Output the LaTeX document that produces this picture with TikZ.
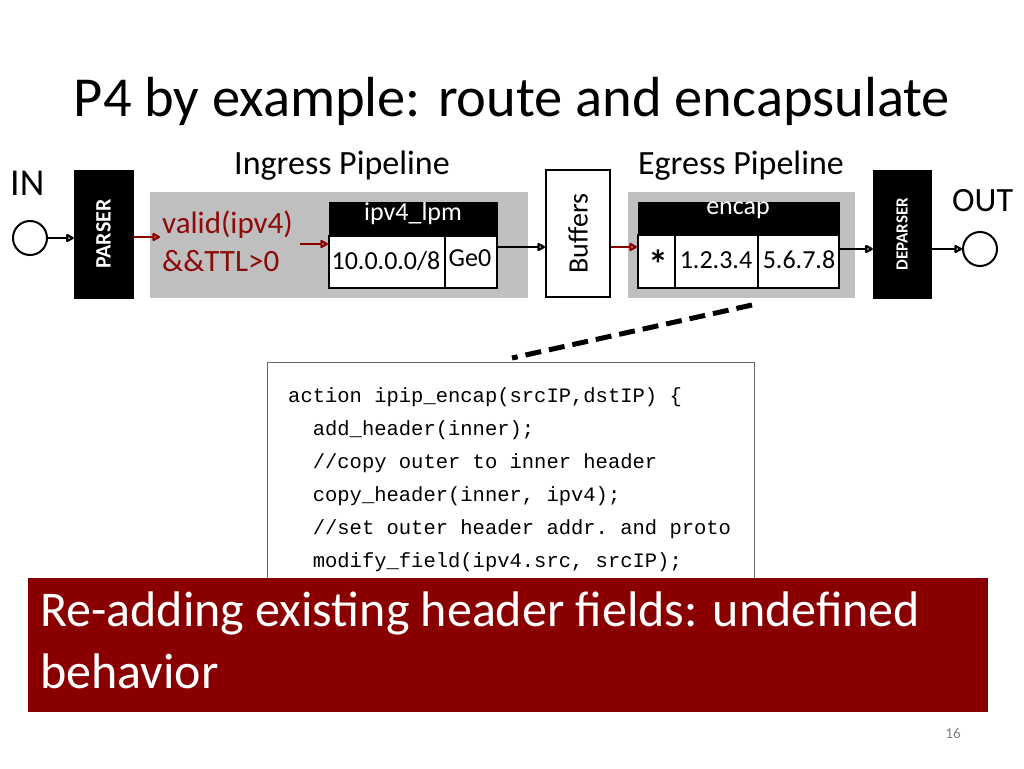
\documentclass[tikz,border=0pt]{standalone}
\usepackage{fontspec}
\usetikzlibrary{arrows.meta}
\setmainfont{Carlito}
\setmonofont{Liberation Mono}
\begin{document}
\begin{tikzpicture}[x=1pt,y=-1pt,
  blk/.style={fill=black,draw=black},
  ar/.style={-{Stealth[length=9pt,width=9pt,inset=0pt,open,round]},line width=2.2pt},
  rar/.style={ar,draw=red!55!black},
  cell/.style={draw=black,line width=2.2pt,fill=white,inner sep=0pt},
  lbl/.style={inner sep=0pt,font=\fontsize{26}{28}\selectfont}]
\useasboundingbox (0,0) rectangle (1024,768);
\definecolor{dred}{HTML}{8C0A0A}
\definecolor{bred}{HTML}{8A0000}
\node[anchor=base,font=\fontsize{56.5}{60}\selectfont] (title) at (512,116) {P4 by example: route and encapsulate};
\node[anchor=base,font=\fontsize{34}{36}\selectfont] (ing) at (342,174) {Ingress Pipeline};
\node[anchor=base,font=\fontsize{34}{36}\selectfont] (eg) at (741,174) {Egress Pipeline};
\node[anchor=base west,inner sep=0pt,font=\fontsize{38}{40}\selectfont] (in) at (10,195) {IN};
\node[anchor=base west,inner sep=0pt,font=\fontsize{34}{36}\selectfont] (out) at (952,211) {OUT};
\fill[black!25] (150,192) rectangle (528,298);
\fill[black!25] (628,192) rectangle (855,298);
\node[circle,draw,line width=2pt,minimum size=34pt,inner sep=0pt] (cin) at (30,238) {};
\node[circle,draw,line width=2pt,minimum size=34pt,inner sep=0pt] (cout) at (980,249) {};
\node[blk,minimum width=59pt,minimum height=128pt,inner sep=0pt] (parser) at (103.5,234) {};
\node[rotate=90,text=white,font=\bfseries\fontsize{22}{24}\selectfont] (pt) at (parser) {PARSER};
\node[blk,minimum width=58pt,minimum height=128pt,inner sep=0pt] (deparser) at (902,234) {};
\node[rotate=90,text=white,font=\bfseries\fontsize{17}{18}\selectfont] (dt) at (deparser) {DEPARSER};
\node[draw,line width=2pt,fill=white,minimum width=64pt,minimum height=127pt,inner sep=0pt] (buf) at (578,233.5) {};
\node[rotate=90,font=\fontsize{28}{30}\selectfont] (bt) at (buf) {Buffers};
\node[anchor=west,align=left,text=dred,inner sep=0pt,font=\fontsize{31}{38}\selectfont] (cond) at (162,241) {valid(ipv4)\\\&\&TTL>0};
\node[blk,minimum width=168pt,minimum height=34pt,inner sep=0pt] (lpmh) at (413,219) {};
\node[text=white,font=\fontsize{26}{28}\selectfont] at (413,214) {ipv4\_lpm};
\node[cell,minimum width=116pt,minimum height=52pt] (c1) at (387,262) {};
\node[cell,minimum width=52pt,minimum height=52pt] (c2) at (471,262) {};
\node[lbl] at (386,261) {10.0.0.0/8};
\node[lbl] at (470,258) {Ge0};
\node[blk,minimum width=201pt,minimum height=33pt,inner sep=0pt] (enh) at (738.5,218.5) {};
\node[text=white,font=\fontsize{26}{28}\selectfont] at (738,210) {encap};
\node[cell,minimum width=37pt,minimum height=53pt] (e1) at (656.5,261.5) {};
\node[cell,minimum width=83pt,minimum height=53pt] (e2) at (716.5,261.5) {};
\node[cell,minimum width=81pt,minimum height=53pt] (e3) at (798.5,261.5) {};
\node[font=\bfseries\fontsize{40}{40}\selectfont,inner sep=0pt] at (658,264) {*};
\node[lbl] at (716,260) {1.2.3.4};
\node[lbl] at (799,260) {5.6.7.8};
\draw[ar] (cin.east) -- (parser.west|-cin.east);
\draw[rar] (parser.east|-0,237) -- (160,237);
\draw[rar] (300,244) -- (c1.west|-0,244);
\draw[ar] (c2.east|-0,247) -- (buf.west|-0,247);
\draw[rar] (buf.east|-0,247) -- (e1.west|-0,247);
\draw[ar] (e3.east|-0,249) -- (deparser.west|-0,249);
\draw[ar] (deparser.east|-0,249) -- (cout.west);
\coordinate (d1) at (752,305);
\coordinate (d2) at (512,358);
\draw[line width=5pt,dash pattern=on 16pt off 8pt] (d1) -- (d2);
\node[draw=black!60,line width=1pt,fill=white,minimum width=487pt,minimum height=260pt,inner sep=0pt] (code) at (510.5,492) {};
\node[anchor=north west,align=left,inner sep=0pt,font=\ttfamily\fontsize{20.5}{33}\selectfont] (ct) at (288,387) {action ipip\_encap(srcIP,dstIP) \{\\
\ \ add\_header(inner);\\
\ \ //copy outer to inner header\\
\ \ copy\_header(inner, ipv4);\\
\ \ //set outer header addr. and proto\\
\ \ modify\_field(ipv4.src, srcIP);};
\node[fill=bred,minimum width=960pt,minimum height=134pt,inner sep=0pt] (ban) at (508,645) {};
\node[anchor=north west,align=left,text=white,inner sep=0pt,font=\fontsize{50}{62}\selectfont] (bt2) at (40,592) {Re-adding existing header fields: undefined\\behavior};
\node[text=black!50,font=\fontsize{15}{16}\selectfont] (pg) at (953,733) {16};
\end{tikzpicture}
\end{document}
